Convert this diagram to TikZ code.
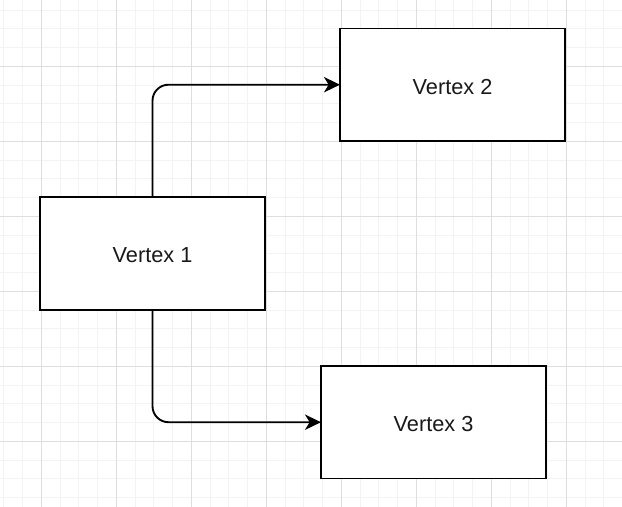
\documentclass[tikz,border=0pt]{standalone}
\usepackage{fontspec}
\setmainfont{Liberation Sans}
\usetikzlibrary{arrows.meta}
\definecolor{gridminor}{HTML}{F3F3F3}
\definecolor{gridmajor}{HTML}{DEDEDE}
\tikzset{
  vbox/.style={draw=black, line width=1.4pt, fill=white, inner sep=0pt, outer sep=0pt,
    minimum width=168.75pt, minimum height=84.4pt, text height=14.5pt, text depth=0pt,
    font=\fontsize{16.3}{19}\selectfont, text=black!90},
  conn/.style={draw=black, line width=1.4pt, rounded corners=12pt,
    -{Stealth[length=12pt, width=11.5pt, inset=3.5pt]}},
  minorline/.style={gridminor, line width=0.75pt},
  majorline/.style={gridmajor, line width=0.75pt}
}
\begin{document}
\begin{tikzpicture}[x=0.75pt, y=-0.75pt]
\useasboundingbox (0,0) rectangle (622,507);
\fill[white] (0,0) rectangle (622,507);
% grid
\foreach \i in {0,...,33} {
  \draw[minorline] ({3.8+18.75*\i},0) -- ({3.8+18.75*\i},507);
}
\foreach \j in {0,...,27} {
  \draw[minorline] (0,{-8.7+18.75*\j}) -- (622,{-8.7+18.75*\j});
}
\foreach \i in {0,...,8} {
  \draw[majorline] ({41.3+75*\i},0) -- ({41.3+75*\i},507);
}
\foreach \j in {0,...,7} {
  \draw[majorline] (0,{-8.7+75*\j}) -- (622,{-8.7+75*\j});
}
% nodes
\node[vbox] (v1) at (152.5,253.3) {Vertex 1};
\node[vbox] (v2) at (452.5,84.7) {Vertex 2};
\node[vbox] (v3) at (433.5,422.2) {Vertex 3};
% connectors
\draw[conn] (v1.north) |- (v2.west);
\draw[conn] (v1.south) |- (v3.west);
\end{tikzpicture}
\end{document}
